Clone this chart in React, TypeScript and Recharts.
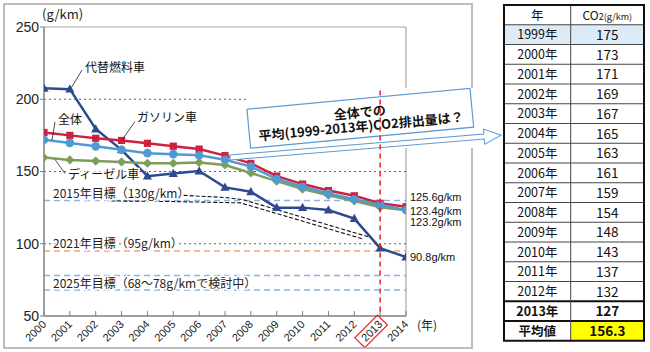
import React from 'react';
import { LineChart, Line, XAxis, YAxis, ReferenceLine } from 'recharts';

const years = [2000, 2001, 2002, 2003, 2004, 2005, 2006, 2007, 2008, 2009, 2010, 2011, 2012, 2013, 2014];
const gasoline = [177, 175, 173, 171.5, 169.5, 167.5, 165.5, 161, 155.6, 146.8, 141.3, 136.8, 133.2, 128, 125.6];
const overall = [172, 169.8, 167.4, 165, 162.7, 162, 161.2, 158.1, 153.4, 144.8, 139.4, 134.8, 130.8, 127, 123.4];
const diesel = [159.7, 158, 157.2, 156.6, 155.7, 155.7, 156.3, 154.5, 149, 143.3, 137.8, 133.6, 129.6, 125.2, 123.2];
const altFuel = [207.6, 207, 179.4, 165, 146.8, 148.6, 150.3, 139, 136, 125, 125, 123.3, 117.4, 97, 90.8];

// hand drawn trend lines (black dashed)
const trendAYears = [2002.6, 2005, 2007.6, 2012.3];
const trendAValues = [129.6, 129.2, 128.3, 103.5];
const trendBYears = [2005.4, 2007, 2007.7, 2012.6];
const trendBValues = [133.5, 132, 130.5, 104.5];

const yTicks = [50, 100, 150, 200, 250];
const gridValues = [200, 150, 100];
const targetValues = [130, 95, 78, 68];
const targetColors = ['#8DB4E2', '#F6A47E', '#8DB4E2', '#8DB4E2'];
const targetLabels = ['2015年目標（130g/km）', '2021年目標（95g/km）', '2025年目標（68～78g/kmで検討中）'];
const markYear = 2013;

const tableYears = ['1999年', '2000年', '2001年', '2002年', '2003年', '2004年', '2005年', '2006年', '2007年', '2008年', '2009年', '2010年', '2011年', '2012年', '2013年'];
const tableValues = [175, 173, 171, 169, 167, 165, 163, 161, 159, 154, 148, 143, 137, 132, 127];
const avgLabel = '平均値';
const avgValue = '156.3';

const RED = '#CC2240';
const LIGHTBLUE = '#4F9AD2';
const GREEN = '#7E9D5D';
const NAVY = '#2E4A8E';
const CALLOUT = '#5B9BD5';
const JP = '"Noto Sans CJK JP", sans-serif';
const SANS = '"Liberation Sans", Arial, sans-serif';

const rows = years.map((year, i) => ({
  year,
  gasoline: gasoline[i],
  overall: overall[i],
  diesel: diesel[i],
  altFuel: altFuel[i],
}));
const trendA = trendAYears.map((year, i) => ({ year, v: trendAValues[i] }));
const trendB = trendBYears.map((year, i) => ({ year, v: trendBValues[i] }));

const makeDot = (shape: string, color: string) => (p: any) => {
  const { cx, cy, index } = p;
  const k = `d-${shape}-${index}`;
  if (cx == null || cy == null) return <g key={k} />;
  if (shape === 'square') return <rect key={k} x={cx - 3.6} y={cy - 3.6} width={7.2} height={7.2} fill={color} />;
  if (shape === 'circle') return <circle key={k} cx={cx} cy={cy} r={4.3} fill={color} />;
  if (shape === 'diamond')
    return <polygon key={k} points={`${cx},${cy - 4.6} ${cx + 4.6},${cy} ${cx},${cy + 4.6} ${cx - 4.6},${cy}`} fill={color} />;
  return <polygon key={k} points={`${cx},${cy - 4.8} ${cx + 4.6},${cy + 3.4} ${cx - 4.6},${cy + 3.4}`} fill={color} />;
};

const endLabel = (dy: number) => (p: any) => {
  if (p.index !== years.length - 1) return <g key={`l-${p.index}`} />;
  return (
    <text key={`l-${p.index}`} x={p.x + 4} y={p.y + dy} fontSize={11} fontFamily={SANS} fill="#111">
      {`${p.value}g/km`}
    </text>
  );
};

const XTick = (props: any) => {
  const { x, y, payload } = props;
  const ax = x + 3;
  const ay = y + 9;
  return (
    <g>
      <line x1={x} y1={y} x2={x} y2={y - 5} stroke="#808080" strokeWidth={1} />
      <g transform={`rotate(-45 ${ax} ${ay})`}>
        {payload.value === markYear && (
          <rect x={ax - 29} y={ay - 11} width={32} height={14} fill="none" stroke="#E0282E" strokeWidth={1.2} />
        )}
        <text x={ax} y={ay} textAnchor="end" fontSize={11} fontFamily={SANS} fill="#222">
          {payload.value}
        </text>
      </g>
    </g>
  );
};

const margin = { top: 27, right: 64, left: 4, bottom: 0 };

function DataTable() {
  const x0 = 504;
  const y0 = 5;
  const w1 = 66.7;
  const w2 = 73.3;
  const rh = 19.75;
  const n = tableYears.length + 2;
  const cells: React.ReactNode[] = [];
  const rowY = (i: number) => y0 + i * rh;
  // fills
  cells.push(<rect key="f1999" x={x0} y={rowY(1)} width={w1 + w2} height={rh} fill="#DDEBF7" />);
  cells.push(<rect key="favg" x={x0 + w1} y={rowY(n - 1)} width={w2} height={rh} fill="#FFFF00" />);
  // header
  cells.push(
    <text key="h1" x={x0 + w1 / 2} y={rowY(0) + 14.5} textAnchor="middle" fontSize={12.5} fontFamily={JP} fill="#111">
      年
    </text>
  );
  cells.push(
    <text key="h2" x={x0 + w1 + w2 / 2} y={rowY(0) + 14.5} textAnchor="middle" fontFamily={JP} fill="#111">
      <tspan fontSize={12}>CO</tspan>
      <tspan fontSize={9}>2(g/km)</tspan>
    </text>
  );
  tableYears.forEach((yr, i) => {
    const bold = i === tableYears.length - 1;
    cells.push(
      <text key={`y${i}`} x={x0 + w1 / 2} y={rowY(i + 1) + 14.5} textAnchor="middle" fontSize={12.5} fontWeight={bold ? 700 : 400} fontFamily={JP} fill="#111">
        {yr}
      </text>
    );
    cells.push(
      <text key={`v${i}`} x={x0 + w1 + w2 / 2} y={rowY(i + 1) + 15} textAnchor="middle" fontSize={13.5} fontWeight={bold ? 700 : 400} fontFamily={JP} fill="#111">
        {tableValues[i]}
      </text>
    );
  });
  cells.push(
    <text key="al" x={x0 + w1 / 2} y={rowY(n - 1) + 14.5} textAnchor="middle" fontSize={12.5} fontWeight={700} fontFamily={JP} fill="#111">
      {avgLabel}
    </text>
  );
  cells.push(
    <text key="av" x={x0 + w1 + w2 / 2} y={rowY(n - 1) + 15} textAnchor="middle" fontSize={13.5} fontWeight={700} fontFamily={JP} fill="#111">
      {avgValue}
    </text>
  );
  // grid lines
  for (let i = 1; i < n; i++) {
    const thick = i === n - 2 || i === n - 1;
    cells.push(
      <line key={`hl${i}`} x1={x0} x2={x0 + w1 + w2} y1={rowY(i)} y2={rowY(i)} stroke={thick ? '#111' : '#444'} strokeWidth={thick ? 2 : 1} />
    );
  }
  cells.push(<line key="vl" x1={x0 + w1} x2={x0 + w1} y1={y0} y2={rowY(n)} stroke="#444" strokeWidth={1} />);
  cells.push(<rect key="outer" x={x0} y={y0} width={w1 + w2} height={n * rh} fill="none" stroke="#111" strokeWidth={2} />);
  return <g>{cells}</g>;
}

export default function App() {
  return (
    <div style={{ position: 'absolute', left: 0, top: 0, width: 650, height: 352, background: '#fff' }}>
      <div style={{ position: 'absolute', left: 0, top: 0 }}>
        <LineChart width={470} height={352} data={rows} margin={margin}>
          <XAxis
            dataKey="year"
            type="number"
            domain={[2000, 2014]}
            ticks={years}
            interval={0}
            allowDataOverflow
            height={36}
            tickSize={0}
            tickMargin={0}
            tick={<XTick />}
            tickLine={false}
            axisLine={{ stroke: '#808080', strokeWidth: 1.5 }}
          />
          <YAxis
            domain={[50, 250]}
            ticks={yTicks}
            interval={0}
            width={40}
            tickSize={4}
            tickMargin={1}
            tick={{ fontSize: 14, fontFamily: SANS, fill: '#222' }}
            tickLine={{ stroke: '#808080' }}
            axisLine={{ stroke: '#808080', strokeWidth: 1.5 }}
          />
          <ReferenceLine y={250} stroke="#A6A6A6" strokeWidth={1.2} />
          <ReferenceLine x={2014} stroke="#A6A6A6" strokeWidth={1.2} />
          {gridValues.map((v) => (
            <ReferenceLine key={`g${v}`} y={v} stroke="#606060" strokeDasharray="2 3" strokeWidth={1} />
          ))}
          {targetValues.map((v, i) => (
            <ReferenceLine key={`t${v}`} y={v} stroke={targetColors[i]} strokeDasharray="6 4" strokeWidth={1.5} />
          ))}
          <Line data={trendA} dataKey="v" stroke="#111" strokeWidth={1.1} strokeDasharray="4 2" dot={false} isAnimationActive={false} />
          <Line data={trendB} dataKey="v" stroke="#111" strokeWidth={1.1} strokeDasharray="4 2" dot={false} isAnimationActive={false} />
          <Line dataKey="altFuel" stroke={NAVY} strokeWidth={2.5} dot={makeDot('triangle', NAVY)} label={endLabel(4)} isAnimationActive={false} />
          <Line dataKey="diesel" stroke={GREEN} strokeWidth={2.5} dot={makeDot('diamond', GREEN)} label={endLabel(15.5)} isAnimationActive={false} />
          <Line dataKey="gasoline" stroke={RED} strokeWidth={2.5} dot={makeDot('square', RED)} label={endLabel(-6)} isAnimationActive={false} />
          <Line dataKey="overall" stroke={LIGHTBLUE} strokeWidth={2.5} dot={makeDot('circle', LIGHTBLUE)} label={endLabel(5)} isAnimationActive={false} />
        </LineChart>
      </div>
      <svg width={650} height={352} style={{ position: 'absolute', left: 0, top: 0 }}>
        <rect x={4} y={4} width={468} height={344} fill="none" stroke="#A6A6A6" strokeWidth={1.5} />
        <text x={42} y={19} fontSize={13} fontFamily={JP} fill="#222">(g/km)</text>
        <text x={417} y={330} fontSize={12} fontFamily={JP} fill="#222">(年)</text>

        {/* series names */}
        <g fontFamily={JP} fontSize={12} fill="#111" stroke="#fff" strokeWidth={3} paintOrder="stroke">
          <text x={85} y={72}>代替燃料車</text>
          <text x={137} y={122}>ガソリン車</text>
          <text x={58} y={123.5}>全体</text>
          <text x={68} y={178.5}>ディーゼル車</text>
        </g>
        <g stroke="#222" strokeWidth={0.8}>
          <line x1={82} y1={70} x2={71.5} y2={87.5} />
          <line x1={135} y1={121.5} x2={122} y2={140} />
          <line x1={55} y1={122} x2={52} y2={140} />
          <line x1={55} y1={159.5} x2={65} y2={173.5} />
        </g>

        {/* target labels */}
        <g fontFamily={JP} fontSize={12} fill="#222" stroke="#fff" strokeWidth={3} paintOrder="stroke">
          <text x={53} y={198}>{targetLabels[0]}</text>
          <text x={53} y={248}>{targetLabels[1]}</text>
          <text x={53} y={288}>{targetLabels[2]}</text>
        </g>

        {/* callout */}
        <rect x={246} y={88} width={228} height={60} fill="#fff" />
        <g transform="translate(230 157.5) rotate(-4.7)">
          <polygon points="0,-2.5 255,-2.5 255,-7.5 272,0 255,7.5 255,2.5 0,2.5" fill="#fff" stroke={CALLOUT} strokeWidth={1} />
        </g>
        <g transform="translate(360.3 118.2) rotate(-5.37)">
          <rect x={-112} y={-19.5} width={224} height={39} fill="#fff" stroke={CALLOUT} strokeWidth={1.2} />
          <text x={0} y={-1} textAnchor="middle" fontSize={13} fontWeight={700} fontFamily={JP} fill="#111">
            全体での
          </text>
          <text x={0} y={13} textAnchor="middle" fontSize={13} fontWeight={700} fontFamily={JP} fill="#111">
            平均(1999-2013年)CO2排出量は？
          </text>
        </g>

        <DataTable />
      </svg>
      <div style={{ position: 'absolute', left: 0, top: 0, pointerEvents: 'none' }}>
        <LineChart width={470} height={352} data={rows} margin={{ top: 27, right: 64, left: 44, bottom: 36 }}>
          <XAxis dataKey="year" type="number" domain={[2000, 2014]} hide allowDataOverflow />
          <YAxis domain={[50, 250]} hide allowDataOverflow />
          <ReferenceLine
            segment={[
              { x: markYear, y: 206 },
              { x: markYear, y: 50 },
            ]}
            stroke="#E8202A"
            strokeWidth={1.5}
            strokeDasharray="5 4"
          />
        </LineChart>
      </div>
    </div>
  );
}
